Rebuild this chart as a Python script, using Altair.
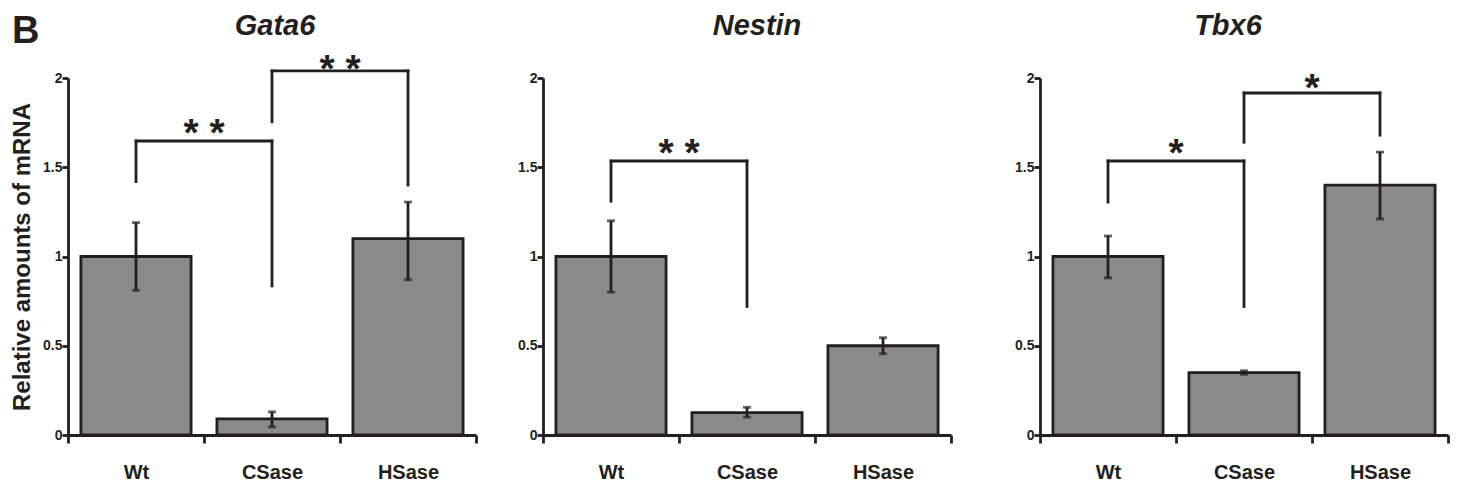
import altair as alt
import pandas as pd

FONT = "Liberation Sans"
INK = "#231f20"
BAR = "#8a8a8a"
LW = 2.8

groups = ["Wt", "CSase", "HSase"]
genes = ["Gata6", "Nestin", "Tbx6"]

# mean, lower and upper end of error bars
gata6_mean = [1.00, 0.09, 1.10]
gata6_lo = [0.81, 0.045, 0.87]
gata6_hi = [1.19, 0.13, 1.305]

nestin_mean = [1.00, 0.125, 0.50]
nestin_lo = [0.80, 0.10, 0.455]
nestin_hi = [1.20, 0.155, 0.545]

tbx6_mean = [1.00, 0.35, 1.40]
tbx6_lo = [0.88, 0.34, 1.21]
tbx6_hi = [1.115, 0.36, 1.585]

# significance brackets: from, to, bracket level, left leg end, right leg end, label, label level
gata6_from = ["Wt", "CSase"]
gata6_to = ["CSase", "HSase"]
gata6_level = [1.647, 2.04]
gata6_left = [1.42, 1.755]
gata6_right = [0.835, 1.40]
gata6_label = ["* *", "* *"]
gata6_label_y = [1.737, 2.095]

nestin_from = ["Wt"]
nestin_to = ["CSase"]
nestin_level = [1.535]
nestin_left = [1.31]
nestin_right = [0.72]
nestin_label = ["* *"]
nestin_label_y = [1.625]

tbx6_from = ["Wt", "CSase"]
tbx6_to = ["CSase", "HSase"]
tbx6_level = [1.535, 1.916]
tbx6_left = [1.305, 1.64]
tbx6_right = [0.72, 1.68]
tbx6_label = ["*", "*"]
tbx6_label_y = [1.625, 1.99]

y_ticks = [0, 0.5, 1, 1.5, 2]

W, H = 408, 357

xs = alt.Scale(domain=groups, paddingInner=0, paddingOuter=0)
ys = alt.Scale(domain=[0, 2], nice=False, zero=True)


def panel(gene, mean, lo, hi, bfrom, bto, blevel, bleft, bright, blabel, blabel_y,
          first, title_dx):
    df = pd.DataFrame({"group": groups, "mean": mean, "lo": lo, "hi": hi})
    br = pd.DataFrame({"from": bfrom, "to": bto, "level": blevel, "left": bleft,
                       "right": bright, "label": blabel, "label_y": blabel_y})

    x_axis = alt.Axis(title=None, labelAngle=0, tickBand="extent", tickSize=8,
                      tickWidth=LW, tickColor=INK, domainColor=INK, domainWidth=LW,
                      labelFont=FONT, labelFontSize=20, labelFontWeight="bold",
                      labelColor=INK, labelPadding=19)
    y_kw = dict(values=y_ticks, labelExpr="'' + datum.value", grid=False,
                tickSize=6, tickWidth=LW, tickColor=INK, domainColor=INK,
                domainWidth=LW, labelFont=FONT, labelFontSize=14,
                labelFontWeight="bold", labelColor=INK, labelPadding=0,
                titleFont=FONT, titleFontSize=24, titleFontWeight="bold",
                titleColor=INK, titlePadding=8)
    if first:
        y_axis = alt.Axis(title="Relative amounts of mRNA", **y_kw)
    else:
        y_axis = alt.Axis(title=None, **y_kw)

    def X(field, **kw):
        return alt.X(field, scale=xs, axis=x_axis, **kw)

    def Y(field):
        return alt.Y(field, scale=ys, axis=y_axis)

    base = alt.Chart(df)
    bars = base.mark_bar(color=BAR, stroke=INK, strokeWidth=LW,
                         width=alt.RelativeBandSize(0.81)).encode(
        x=X("group:N"), y=Y("mean:Q"))
    err = base.mark_rule(color=INK, strokeWidth=LW).encode(
        x=X("group:N"), y=Y("lo:Q"), y2="hi:Q")
    cap_lo = base.mark_tick(color=INK, thickness=LW, size=8).encode(
        x=X("group:N"), y=Y("lo:Q"))
    cap_hi = base.mark_tick(color=INK, thickness=LW, size=8).encode(
        x=X("group:N"), y=Y("hi:Q"))

    bbase = alt.Chart(br)
    hline = bbase.mark_rule(color=INK, strokeWidth=LW, strokeCap="square").encode(
        x=X("from:N"), x2="to:N", y=Y("level:Q"))
    lleg = bbase.mark_rule(color=INK, strokeWidth=LW, strokeCap="square").encode(
        x=X("from:N"), y=Y("left:Q"), y2="level:Q")
    rleg = bbase.mark_rule(color=INK, strokeWidth=LW, strokeCap="square").encode(
        x=X("to:N"), y=Y("right:Q"), y2="level:Q")
    stars = bbase.mark_text(font=FONT, fontSize=39, fontWeight="bold", color=INK,
                            baseline="alphabetic", dy=21).encode(
        x=X("to:N", bandPosition=0), y=Y("label_y:Q"), text="label:N")

    title = alt.Chart(pd.DataFrame({"t": [gene]})).mark_text(
        font=FONT, fontSize=29, fontWeight="bold", fontStyle="italic", color=INK,
        baseline="alphabetic", align="center").encode(
        text="t:N", x=alt.value(W / 2 + title_dx), y=alt.value(-43))

    layers = [bars, err, cap_lo, cap_hi, hline, lleg, rleg, stars, title]
    if first:
        letter = alt.Chart(pd.DataFrame({"t": ["B"]})).mark_text(
            font=FONT, fontSize=38, fontWeight="bold", color=INK,
            baseline="alphabetic", align="left").encode(
            text="t:N", x=alt.value(-56), y=alt.value(-35))
        layers.append(letter)
    return alt.layer(*layers).properties(width=W, height=H)


p1 = panel(genes[0], gata6_mean, gata6_lo, gata6_hi, gata6_from, gata6_to, gata6_level,
           gata6_left, gata6_right, gata6_label, gata6_label_y, True, 3)
p2 = panel(genes[1], nestin_mean, nestin_lo, nestin_hi, nestin_from, nestin_to,
           nestin_level, nestin_left, nestin_right, nestin_label, nestin_label_y, False, 10)
p3 = panel(genes[2], tbx6_mean, tbx6_lo, tbx6_hi, tbx6_from, tbx6_to, tbx6_level,
           tbx6_left, tbx6_right, tbx6_label, tbx6_label_y, False, -16)

chart = alt.hconcat(alt.hconcat(p1, p2, spacing=39), p3, spacing=61).configure_view(
    stroke=None
).properties(padding={"left": 2, "top": 4, "right": 5, "bottom": 5})

chart.save("out.html", embed_options={"renderer": "svg", "actions": False})
